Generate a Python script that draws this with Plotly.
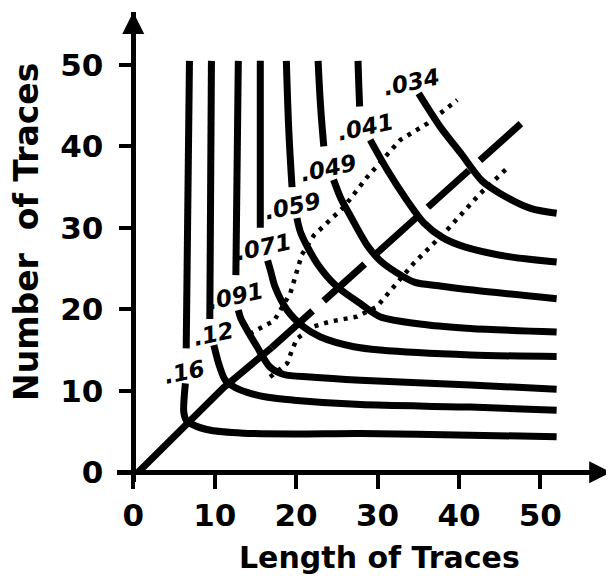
import plotly.graph_objects as go

# ---------------- data ----------------
level_labels = [".16", ".12", ".091", ".071", ".059", ".049", ".041", ".034"]

# upper (vertical) branches of each contour
upper_x = [[6.9, 6.5], [9.6, 9.4], [12.9, 12.6], [15.6, 15.6],
           [18.8, 19.1, 19.5], [22.7, 23.0, 23.4], [27.6, 27.7, 27.8], []]
upper_y = [[50.5, 15.2], [50.5, 18.8], [50.5, 24.2], [50.5, 30.0],
           [50.5, 42.0, 35.0], [50.5, 45.0, 40.0], [50.5, 47.5, 44.9], []]

# lower (bending, then horizontal) branches of each contour
lower_x = [
    [6.4, 6.2, 6.5, 7.4, 9.5, 13.5, 19.7, 27.9, 41.4, 52.0],
    [9.9, 10.5, 11.3, 12.5, 14.0, 16.5, 19.7, 27.9, 41.4, 52.0],
    [12.9, 13.2, 13.75, 15.2, 16.8, 18.5, 21.7, 27.9, 41.4, 52.0],
    [16.5, 16.9, 17.4, 18.9, 20.9, 23.0, 27.1, 30.3, 41.4, 52.0],
    [20.1, 20.6, 22.6, 25.0, 27.9, 30.3, 36.0, 41.4, 52.0],
    [24.6, 25.5, 26.7, 28.7, 30.3, 32.2, 34.6, 37.5, 41.4, 52.0],
    [29.1, 31.2, 33.6, 35.7, 38.0, 40.6, 45.9, 52.0],
    [35.05, 37.7, 40.2, 42.8, 45.1, 48.8, 52.0],
]
lower_y = [
    [10.9, 7.4, 6.4, 5.8, 5.15, 4.8, 4.7, 4.75, 4.55, 4.35],
    [15.6, 13.3, 11.3, 10.4, 9.8, 9.2, 8.85, 8.3, 8.0, 7.6],
    [19.9, 18.9, 17.85, 15.4, 12.9, 12.0, 11.7, 11.3, 10.7, 10.2],
    [26.0, 24.6, 22.8, 19.9, 17.85, 16.6, 15.4, 15.0, 14.4, 14.2],
    [31.2, 29.3, 25.6, 22.8, 20.7, 19.1, 18.1, 17.65, 17.2],
    [35.9, 33.6, 31.4, 27.9, 26.0, 24.6, 23.3, 22.9, 22.4, 21.3],
    [40.8, 37.1, 33.4, 30.6, 28.8, 27.7, 26.5, 25.8],
    [46.5, 42.4, 39.2, 35.8, 34.2, 32.4, 31.8],
]

# contour label anchor points (data units)
label_x = [6.3, 9.8, 12.6, 16.0, 19.6, 24.0, 28.5, 34.2]
label_y = [12.3, 17.0, 21.6, 27.6, 32.7, 37.3, 42.4, 47.9]

# diagonal line (solid part then dashed part)
diag_x = [0.6, 11.1, 17.0, 48.4]
diag_y = [0.0, 10.4, 15.3, 43.5]

# dotted lines
upper_dot_x = [14.3, 17.3, 19.3, 20.7, 22.2, 25.9, 28.7, 32.8, 36.1, 39.8]
upper_dot_y = [17.0, 18.6, 22.0, 26.7, 29.1, 32.6, 36.2, 40.8, 42.8, 45.7]
lower_dot_x = [16.8, 18.9, 19.5, 20.1, 22.2, 24.2, 27.5, 29.9, 34.4, 38.5, 42.6, 45.9]
lower_dot_y = [11.7, 13.35, 15.0, 16.4, 17.9, 18.5, 19.1, 20.3, 25.6, 29.7, 34.2, 37.3]

tick_vals = [0, 10, 20, 30, 40, 50]
x_title = "Length of Traces"
y_title = "Number\u00a0\u00a0of Traces"

# ---------------- figure ----------------
FONT = "DejaVu Sans"
INK = "black"
X_RANGE = [-2, 58.8]
Y_RANGE = [-1.2, 56.5]

fig = go.Figure()

for i in range(len(level_labels)):
    if upper_x[i]:
        fig.add_trace(go.Scatter(x=upper_x[i], y=upper_y[i], mode="lines",
                                 line=dict(color=INK, width=7, shape="spline"),
                                 hoverinfo="skip", showlegend=False))
    fig.add_trace(go.Scatter(x=lower_x[i], y=lower_y[i], mode="lines",
                             line=dict(color=INK, width=7, shape="spline", smoothing=0.8),
                             hoverinfo="skip", showlegend=False))

fig.add_trace(go.Scatter(x=diag_x[:3], y=diag_y[:3], mode="lines",
                         line=dict(color=INK, width=7),
                         hoverinfo="skip", showlegend=False))
fig.add_trace(go.Scatter(x=diag_x[2:], y=diag_y[2:], mode="lines",
                         line=dict(color=INK, width=7, dash="55px,15px"),
                         hoverinfo="skip", showlegend=False))

for dx, dy in [(upper_dot_x, upper_dot_y), (lower_dot_x, lower_dot_y)]:
    fig.add_trace(go.Scatter(x=dx, y=dy, mode="lines",
                             line=dict(color=INK, width=4.5, dash="4px,6px"),
                             hoverinfo="skip", showlegend=False))

for txt, lx, ly in zip(level_labels, label_x, label_y):
    fig.add_annotation(x=lx, y=ly, text=txt, showarrow=False,
                       textangle=-12,
                       font=dict(family=FONT, size=23, color=INK, weight="bold", style="italic"))

# axis arrowheads
fig.add_annotation(x=0, y=Y_RANGE[1], ax=0, ay=30, text="", showarrow=True,
                   arrowhead=2, arrowsize=1.1, arrowwidth=4, arrowcolor=INK,
                   axref="pixel", ayref="pixel")
fig.add_annotation(x=X_RANGE[1] - 0.1, y=0, ax=-30, ay=0, text="", showarrow=True,
                   arrowhead=2, arrowsize=1.1, arrowwidth=4, arrowcolor=INK,
                   axref="pixel", ayref="pixel")

# axis titles
fig.add_annotation(xref="x", yref="paper", x=30.2, y=-0.16, text=x_title,
                   showarrow=False, yanchor="middle",
                   font=dict(family=FONT, size=30, color=INK, weight="bold"))
fig.add_annotation(xref="paper", yref="paper", x=-0.183, y=0.533, text=y_title,
                   showarrow=False, textangle=-90, xanchor="center", yanchor="middle",
                   font=dict(family=FONT, size=33, color=INK, weight="bold"))

x_pos = (0 - Y_RANGE[0]) / (Y_RANGE[1] - Y_RANGE[0])
y_pos = (0 - X_RANGE[0]) / (X_RANGE[1] - X_RANGE[0])

# the page body adds an 8px margin, so the figure is drawn 8px smaller and shifted
fig.update_layout(
    width=606, height=575,
    margin=dict(l=109, r=2, t=4, b=101, autoexpand=False),
    paper_bgcolor="white", plot_bgcolor="white",
    showlegend=False,
    xaxis=dict(range=X_RANGE, anchor="free", position=x_pos, automargin=False,
               showline=True, linewidth=4.5, linecolor=INK,
               ticks="outside", ticklen=14, tickwidth=3.5, tickcolor=INK,
               tickvals=tick_vals, showgrid=False, zeroline=False,
               ticklabelstandoff=0,
               tickfont=dict(family=FONT, size=31, color=INK, weight="bold")),
    yaxis=dict(range=Y_RANGE, anchor="free", position=y_pos, automargin=False,
               showline=True, linewidth=4.5, linecolor=INK,
               ticks="outside", ticklen=13, tickwidth=3.5, tickcolor=INK,
               tickvals=tick_vals, showgrid=False, zeroline=False,
               ticklabelstandoff=9,
               tickfont=dict(family=FONT, size=31, color=INK, weight="bold")),
)

fig.write_html("out.html")
